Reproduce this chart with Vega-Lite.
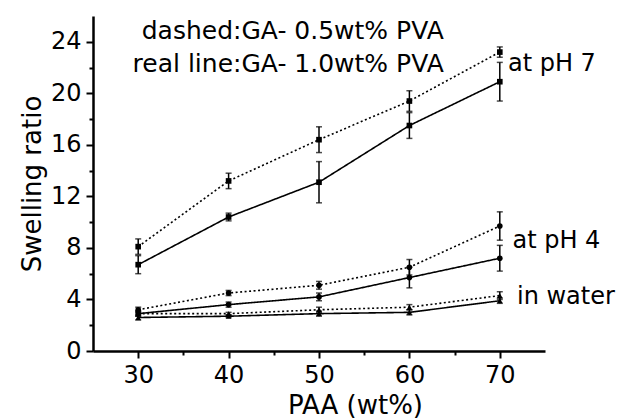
{
  "$schema": "https://vega.github.io/schema/vega-lite/v6.json",
  "width": 452,
  "height": 335,
  "autosize": "none",
  "padding": {"left": 93, "top": 16, "right": 72, "bottom": 67},
  "config": {"view": {"stroke": null}, "font": "DejaVu Sans"},
  "datasets": {
    "pts": [
      {"conc": 30, "sr": 8.1, "err": 0.6, "medium": "pH 7", "pva": "0.5", "series": "pH7-0.5"},
      {"conc": 40, "sr": 13.2, "err": 0.6, "medium": "pH 7", "pva": "0.5", "series": "pH7-0.5"},
      {"conc": 50, "sr": 16.4, "err": 1.0, "medium": "pH 7", "pva": "0.5", "series": "pH7-0.5"},
      {"conc": 60, "sr": 19.4, "err": 0.8, "medium": "pH 7", "pva": "0.5", "series": "pH7-0.5"},
      {"conc": 70, "sr": 23.2, "err": 0.4, "medium": "pH 7", "pva": "0.5", "series": "pH7-0.5"},
      {"conc": 30, "sr": 6.7, "err": 0.7, "medium": "pH 7", "pva": "1.0", "series": "pH7-1.0"},
      {"conc": 40, "sr": 10.4, "err": 0.3, "medium": "pH 7", "pva": "1.0", "series": "pH7-1.0"},
      {"conc": 50, "sr": 13.1, "err": 1.6, "medium": "pH 7", "pva": "1.0", "series": "pH7-1.0"},
      {"conc": 60, "sr": 17.5, "err": 1.0, "medium": "pH 7", "pva": "1.0", "series": "pH7-1.0"},
      {"conc": 70, "sr": 20.9, "err": 1.5, "medium": "pH 7", "pva": "1.0", "series": "pH7-1.0"},
      {"conc": 30, "sr": 3.2, "err": 0.2, "medium": "pH 4", "pva": "0.5", "series": "pH4-0.5"},
      {"conc": 40, "sr": 4.5, "err": 0.2, "medium": "pH 4", "pva": "0.5", "series": "pH4-0.5"},
      {"conc": 50, "sr": 5.1, "err": 0.3, "medium": "pH 4", "pva": "0.5", "series": "pH4-0.5"},
      {"conc": 60, "sr": 6.5, "err": 0.6, "medium": "pH 4", "pva": "0.5", "series": "pH4-0.5"},
      {"conc": 70, "sr": 9.7, "err": 1.1, "medium": "pH 4", "pva": "0.5", "series": "pH4-0.5"},
      {"conc": 30, "sr": 2.9, "err": 0.2, "medium": "pH 4", "pva": "1.0", "series": "pH4-1.0"},
      {"conc": 40, "sr": 3.6, "err": 0.2, "medium": "pH 4", "pva": "1.0", "series": "pH4-1.0"},
      {"conc": 50, "sr": 4.2, "err": 0.3, "medium": "pH 4", "pva": "1.0", "series": "pH4-1.0"},
      {"conc": 60, "sr": 5.7, "err": 0.8, "medium": "pH 4", "pva": "1.0", "series": "pH4-1.0"},
      {"conc": 70, "sr": 7.2, "err": 1.0, "medium": "pH 4", "pva": "1.0", "series": "pH4-1.0"},
      {"conc": 30, "sr": 2.9, "err": 0.2, "medium": "water", "pva": "0.5", "series": "w-0.5"},
      {"conc": 40, "sr": 2.9, "err": 0.1, "medium": "water", "pva": "0.5", "series": "w-0.5"},
      {"conc": 50, "sr": 3.2, "err": 0.2, "medium": "water", "pva": "0.5", "series": "w-0.5"},
      {"conc": 60, "sr": 3.4, "err": 0.2, "medium": "water", "pva": "0.5", "series": "w-0.5"},
      {"conc": 70, "sr": 4.3, "err": 0.3, "medium": "water", "pva": "0.5", "series": "w-0.5"},
      {"conc": 30, "sr": 2.6, "err": 0.2, "medium": "water", "pva": "1.0", "series": "w-1.0"},
      {"conc": 40, "sr": 2.7, "err": 0.1, "medium": "water", "pva": "1.0", "series": "w-1.0"},
      {"conc": 50, "sr": 2.9, "err": 0.2, "medium": "water", "pva": "1.0", "series": "w-1.0"},
      {"conc": 60, "sr": 3.0, "err": 0.2, "medium": "water", "pva": "1.0", "series": "w-1.0"},
      {"conc": 70, "sr": 3.9, "err": 0.2, "medium": "water", "pva": "1.0", "series": "w-1.0"}
    ],
    "header": [
      {"x": 63.8, "y": 24.8, "text": "dashed:GA- 0.5wt% PVA"},
      {"x": 63.8, "y": 22.3, "text": "real line:GA- 1.0wt% PVA"}
    ],
    "labels": [
      {"x": 70.9, "y": 22.3, "text": "at pH 7"},
      {"x": 71.4, "y": 8.5, "text": "at pH 4"},
      {"x": 71.9, "y": 4.2, "text": "in water"}
    ]
  },
  "resolve": {"axis": {"x": "independent", "y": "independent"}},
  "layer": [
    {
      "data": {"name": "pts"},
      "mark": {"type": "line", "color": "black", "strokeWidth": 1.6},
      "encoding": {
        "x": {"field": "conc", "type": "quantitative",
              "scale": {"domain": [25, 75], "nice": false, "zero": false},
              "axis": {"orient": "bottom", "values": [30, 40, 50, 60, 70], "title": "PAA (wt%)",
                       "grid": false, "domainColor": "black", "domainWidth": 2.5, "tickColor": "black",
                       "tickWidth": 2, "tickSize": 7, "labelFontSize": 24, "labelColor": "black",
                       "labelPadding": 5, "titleFontSize": 26, "titleFontWeight": "normal", "titleColor": "black",
                       "titlePadding": 5, "titleX": 262}},
        "y": {"field": "sr", "type": "quantitative",
              "scale": {"domain": [0, 26], "nice": false, "zero": true},
              "axis": {"orient": "left", "values": [0, 4, 8, 12, 16, 20, 24], "title": "Swelling ratio",
                       "grid": false, "domainColor": "black", "domainWidth": 2.5, "tickColor": "black",
                       "tickWidth": 2, "tickSize": 7, "labelFontSize": 24, "labelColor": "black",
                       "labelPadding": 5, "titleFontSize": 26, "titleFontWeight": "normal", "titleColor": "black",
                       "titlePadding": 5}},
        "detail": {"field": "series"},
        "strokeDash": {"field": "pva", "type": "nominal",
                       "scale": {"domain": ["0.5", "1.0"], "range": [[2, 2.5], [1, 0]]}, "legend": null}
      }
    },
    {
      "data": {"name": "pts"},
      "mark": {"type": "point", "opacity": 0},
      "encoding": {
        "x": {"field": "conc", "type": "quantitative",
              "axis": {"orient": "bottom", "values": [35, 45, 55, 65], "labels": false, "title": null,
                       "domain": false, "grid": false, "tickColor": "black", "tickWidth": 2, "tickSize": 4}},
        "y": {"field": "sr", "type": "quantitative",
              "axis": {"orient": "left", "values": [2, 6, 10, 14, 18, 22], "labels": false, "title": null,
                       "domain": false, "grid": false, "tickColor": "black", "tickWidth": 2, "tickSize": 4}}
      }
    },
    {
      "data": {"name": "pts"},
      "mark": {"type": "errorbar", "color": "black", "thickness": 1.5, "ticks": {"size": 6, "thickness": 1.5, "color": "black"}},
      "encoding": {
        "x": {"field": "conc", "type": "quantitative", "axis": null},
        "y": {"field": "sr", "type": "quantitative", "axis": null},
        "yError": {"field": "err"}
      }
    },
    {
      "data": {"name": "pts"},
      "mark": {"type": "point", "filled": true, "color": "black", "opacity": 1, "size": 32},
      "encoding": {
        "x": {"field": "conc", "type": "quantitative", "axis": null},
        "y": {"field": "sr", "type": "quantitative", "axis": null},
        "shape": {"field": "medium", "type": "nominal",
                  "scale": {"domain": ["pH 7", "pH 4", "water"], "range": ["square", "circle", "triangle-up"]},
                  "legend": null}
      }
    },
    {
      "data": {"name": "header"},
      "mark": {"type": "text", "align": "right", "baseline": "middle", "fontSize": 25, "color": "black"},
      "encoding": {
        "x": {"field": "x", "type": "quantitative", "axis": null},
        "y": {"field": "y", "type": "quantitative", "axis": null},
        "text": {"field": "text"}
      }
    },
    {
      "data": {"name": "labels"},
      "mark": {"type": "text", "align": "left", "baseline": "middle", "fontSize": 24, "color": "black"},
      "encoding": {
        "x": {"field": "x", "type": "quantitative", "axis": null},
        "y": {"field": "y", "type": "quantitative", "axis": null},
        "text": {"field": "text"}
      }
    }
  ]
}
